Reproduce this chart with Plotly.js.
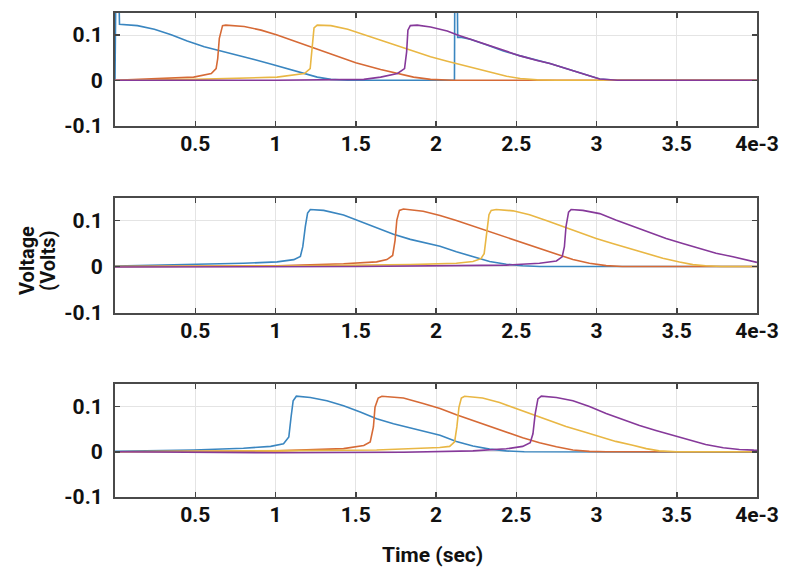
<!DOCTYPE html>
<html>
<head>
<meta charset="utf-8">
<script src="https://cdn.plot.ly/plotly-3.0.1.min.js"></script>
<style>html,body{margin:0;padding:0;background:#fff;}#chart{width:800px;height:568px;}</style>
</head>
<body>
<div id="chart"></div>
<script>
// ---- Data (time in ms, voltage in volts) ----
const seriesNames = ['Channel 1', 'Channel 2', 'Channel 3', 'Channel 4'];
const xTickVals = [0.5, 1, 1.5, 2, 2.5, 3, 3.5, 4];
const xTickText = ['0.5', '1', '1.5', '2', '2.5', '3', '3.5', '4e-3'];
const yTickVals = [-0.1, 0, 0.1];
const yTickText = ['-0.1', '0', '0.1'];

// Top panel
const top_blue_t = [0, 0.008, 0.018, 0.028, 0.14, 0.245, 0.35, 0.45, 0.556, 0.66, 0.76, 0.867, 0.97, 1.075, 1.18, 1.26, 1.345, 1.45, 2.115, 2.118, 2.13, 2.135, 2.16, 2.214, 2.318, 2.42, 2.525, 2.63, 2.71, 2.855, 2.96, 3.02, 3.13, 4.0];
const top_blue_v = [0, 0.3, 0.3, 0.124, 0.121, 0.113, 0.101, 0.087, 0.074, 0.065, 0.056, 0.046, 0.036, 0.026, 0.016, 0.007, 0.002, 0, 0, 0.3, 0.3, 0.095, 0.095, 0.091, 0.078, 0.065, 0.054, 0.044, 0.037, 0.021, 0.009, 0.003, 0, 0];
const top_orange_t = [0, 0.25, 0.49, 0.6, 0.63, 0.64, 0.65, 0.67, 0.69, 0.805, 0.91, 1.01, 1.116, 1.22, 1.344, 1.5, 1.655, 1.76, 1.86, 1.966, 2.1, 4.0];
const top_orange_v = [0, 0.003, 0.007, 0.015, 0.026, 0.048, 0.093, 0.121, 0.122, 0.119, 0.111, 0.1, 0.087, 0.074, 0.059, 0.039, 0.024, 0.015, 0.007, 0.002, 0, 0];
const top_yellow_t = [0, 0.5, 1.01, 1.18, 1.216, 1.226, 1.24, 1.26, 1.345, 1.45, 1.55, 1.655, 1.76, 1.86, 1.966, 2.07, 2.17, 2.28, 2.38, 2.44, 2.525, 2.63, 2.75, 4.0];
const top_yellow_v = [0, 0.002, 0.007, 0.015, 0.026, 0.07, 0.116, 0.122, 0.121, 0.113, 0.101, 0.089, 0.076, 0.063, 0.052, 0.042, 0.033, 0.024, 0.015, 0.009, 0.004, 0.001, 0, 0];
const top_purple_t = [0, 1.0, 1.55, 1.655, 1.76, 1.804, 1.817, 1.825, 1.84, 1.883, 1.966, 2.07, 2.13, 2.214, 2.318, 2.42, 2.525, 2.63, 2.71, 2.855, 2.96, 3.02, 3.13, 4.0];
const top_purple_v = [0, 0, 0.002, 0.007, 0.015, 0.026, 0.063, 0.111, 0.121, 0.122, 0.118, 0.109, 0.101, 0.091, 0.078, 0.065, 0.054, 0.044, 0.037, 0.021, 0.009, 0.003, 0, 0];

// Middle panel
const mid_blue_t = [0, 0.49, 0.8, 1.01, 1.114, 1.155, 1.17, 1.186, 1.2, 1.217, 1.3, 1.424, 1.528, 1.63, 1.735, 1.84, 1.94, 2.025, 2.127, 2.23, 2.334, 2.438, 2.54, 2.645, 4.0];
const mid_blue_v = [0.001, 0.004, 0.007, 0.010, 0.015, 0.022, 0.043, 0.087, 0.116, 0.124, 0.122, 0.112, 0.098, 0.083, 0.07, 0.059, 0.05, 0.044, 0.032, 0.021, 0.011, 0.005, 0.0015, 0, 0];
const mid_orange_t = [0, 1.01, 1.424, 1.63, 1.694, 1.73, 1.745, 1.756, 1.772, 1.797, 1.92, 2.025, 2.127, 2.23, 2.334, 2.438, 2.54, 2.645, 2.75, 2.853, 2.956, 3.06, 3.16, 4.0];
const mid_orange_v = [0, 0.0015, 0.006, 0.010, 0.015, 0.024, 0.057, 0.101, 0.122, 0.125, 0.12, 0.111, 0.1, 0.088, 0.076, 0.063, 0.051, 0.039, 0.026, 0.015, 0.007, 0.002, 0, 0];
const mid_yellow_t = [0, 1.0, 1.84, 2.02, 2.127, 2.23, 2.28, 2.30, 2.317, 2.33, 2.344, 2.375, 2.48, 2.583, 2.687, 2.79, 2.894, 2.998, 3.1, 3.205, 3.31, 3.413, 3.517, 3.6, 3.68, 3.78, 4.0];
const mid_yellow_v = [0, 0.001, 0.004, 0.005, 0.007, 0.011, 0.017, 0.028, 0.072, 0.1125, 0.122, 0.124, 0.121, 0.1125, 0.1, 0.087, 0.074, 0.061, 0.05, 0.039, 0.028, 0.018, 0.0096, 0.004, 0.0015, 0, 0];
const mid_purple_t = [0, 1.5, 2.438, 2.645, 2.75, 2.786, 2.8, 2.81, 2.826, 2.842, 2.915, 3.02, 3.12, 3.226, 3.33, 3.434, 3.537, 3.64, 3.745, 3.85, 3.973, 4.0];
const mid_purple_v = [-0.001, 0, 0.003, 0.007, 0.012, 0.021, 0.043, 0.087, 0.118, 0.124, 0.122, 0.115, 0.101, 0.087, 0.074, 0.061, 0.05, 0.039, 0.029, 0.021, 0.011, 0.009];

// Bottom panel
const bot_blue_t = [0, 0.49, 0.8, 0.97, 1.05, 1.083, 1.097, 1.11, 1.13, 1.217, 1.32, 1.424, 1.528, 1.63, 1.735, 1.84, 1.94, 2.025, 2.127, 2.23, 2.334, 2.438, 2.55, 4.0];
const bot_blue_v = [0.001, 0.004, 0.008, 0.012, 0.018, 0.033, 0.077, 0.113, 0.123, 0.12, 0.113, 0.102, 0.088, 0.073, 0.062, 0.0525, 0.043, 0.0365, 0.023, 0.013, 0.006, 0.002, 0, -0.001];
const bot_orange_t = [0, 1.01, 1.424, 1.55, 1.59, 1.61, 1.62, 1.64, 1.663, 1.797, 1.92, 2.025, 2.127, 2.23, 2.334, 2.438, 2.54, 2.645, 2.75, 2.853, 2.956, 3.06, 4.0];
const bot_orange_v = [0, 0.002, 0.007, 0.014, 0.022, 0.055, 0.0985, 0.119, 0.123, 0.119, 0.107, 0.096, 0.082, 0.069, 0.056, 0.044, 0.031, 0.02, 0.011, 0.004, 0.001, 0, 0];
const bot_yellow_t = [0, 1.0, 1.63, 2.023, 2.085, 2.116, 2.13, 2.143, 2.158, 2.178, 2.29, 2.396, 2.5, 2.604, 2.707, 2.81, 2.915, 3.02, 3.12, 3.226, 3.31, 3.39, 3.5, 4.0];
const bot_yellow_v = [0, 0.0015, 0.004, 0.0095, 0.012, 0.022, 0.055, 0.0985, 0.119, 0.123, 0.119, 0.109, 0.096, 0.082, 0.069, 0.056, 0.045, 0.034, 0.023, 0.0146, 0.007, 0.002, 0, 0];
const bot_purple_t = [0, 1.0, 1.8, 2.23, 2.438, 2.54, 2.587, 2.604, 2.618, 2.635, 2.656, 2.75, 2.853, 2.956, 3.06, 3.164, 3.268, 3.37, 3.475, 3.58, 3.68, 3.79, 3.89, 3.98, 4.0];
const bot_purple_v = [0, -0.002, -0.001, 0.002, 0.0066, 0.012, 0.02, 0.04, 0.084, 0.117, 0.123, 0.12, 0.113, 0.1, 0.085, 0.071, 0.058, 0.047, 0.0365, 0.0255, 0.016, 0.009, 0.005, 0.0036, 0.0035];

// ---- Styling ----
const colors = ['#3a86c0', '#d66a36', '#e9b744', '#86399a'];
const FONT = 'Roboto, "Liberation Sans", sans-serif';

const panels = [
  {xa: 'x', ya: 'y', data: [[top_blue_t, top_blue_v], [top_orange_t, top_orange_v], [top_yellow_t, top_yellow_v], [top_purple_t, top_purple_v]]},
  {xa: 'x2', ya: 'y2', data: [[mid_blue_t, mid_blue_v], [mid_orange_t, mid_orange_v], [mid_yellow_t, mid_yellow_v], [mid_purple_t, mid_purple_v]]},
  {xa: 'x3', ya: 'y3', data: [[bot_blue_t, bot_blue_v], [bot_orange_t, bot_orange_v], [bot_yellow_t, bot_yellow_v], [bot_purple_t, bot_purple_v]]}
];

const traces = [];
panels.forEach(p => {
  p.data.forEach((d, i) => {
    traces.push({
      x: d[0], y: d[1], xaxis: p.xa, yaxis: p.ya,
      type: 'scatter', mode: 'lines', name: seriesNames[i], showlegend: false,
      line: {color: colors[i], width: 1.6}
    });
  });
});

const tickFont = {family: FONT, size: 21, color: '#111', weight: 'bold'};

function xAxis(anchor) {
  return {
    anchor: anchor, domain: [0, 1], range: [0, 4],
    tickmode: 'array', tickvals: xTickVals, ticktext: xTickText,
    ticks: 'inside', ticklen: 5, tickwidth: 1.5, tickcolor: '#444',
    showline: true, linecolor: '#4a4a4a', linewidth: 2, mirror: 'ticks',
    showgrid: true, gridcolor: '#e4e4e4', gridwidth: 1, zeroline: false,
    ticklabelstandoff: -2,
    tickfont: tickFont,
    fixedrange: true, automargin: false
  };
}
function yAxis(anchor, domain) {
  return {
    anchor: anchor, domain: domain, range: [-0.1, 0.15],
    tickmode: 'array', tickvals: yTickVals, ticktext: yTickText,
    ticks: 'inside', ticklen: 5, tickwidth: 1.5, tickcolor: '#444',
    showline: true, linecolor: '#4a4a4a', linewidth: 2, mirror: 'ticks',
    showgrid: true, gridcolor: '#e4e4e4', gridwidth: 1, zeroline: false,
    ticklabelstandoff: 6,
    tickfont: tickFont,
    fixedrange: true, automargin: false
  };
}

const H = 568;
const dom = (top, bot) => [1 - bot / H, 1 - top / H];
const titleFont = {family: FONT, size: 20, color: '#111', weight: 'bold'};

const layout = {
  width: 800, height: 568,
  margin: {l: 115, r: 43, t: 0, b: 0},
  paper_bgcolor: '#fff', plot_bgcolor: '#fff',
  showlegend: false,
  xaxis: xAxis('y'), yaxis: yAxis('x', dom(12.5, 125.5)),
  xaxis2: xAxis('y2'), yaxis2: yAxis('x2', dom(197.5, 312.5)),
  xaxis3: xAxis('y3'), yaxis3: yAxis('x3', dom(384, 497)),
  annotations: [
    {text: 'Voltage', xref: 'paper', yref: 'paper', x: (27 - 115) / 642, y: 1 - 261 / H,
     xanchor: 'center', yanchor: 'middle', textangle: -90, showarrow: false, font: titleFont},
    {text: '(Volts)', xref: 'paper', yref: 'paper', x: (48 - 115) / 642, y: 1 - 261 / H,
     xanchor: 'center', yanchor: 'middle', textangle: -90, showarrow: false, font: titleFont},
    {text: 'Time (sec)', xref: 'paper', yref: 'paper', x: (432 - 115) / 642, y: 1 - 555 / H,
     xanchor: 'center', yanchor: 'middle', showarrow: false,
     font: {family: FONT, size: 21, color: '#111', weight: 'bold'}}
  ]
};

Plotly.newPlot('chart', traces, layout, {displayModeBar: false, staticPlot: true});
</script>
</body>
</html>
